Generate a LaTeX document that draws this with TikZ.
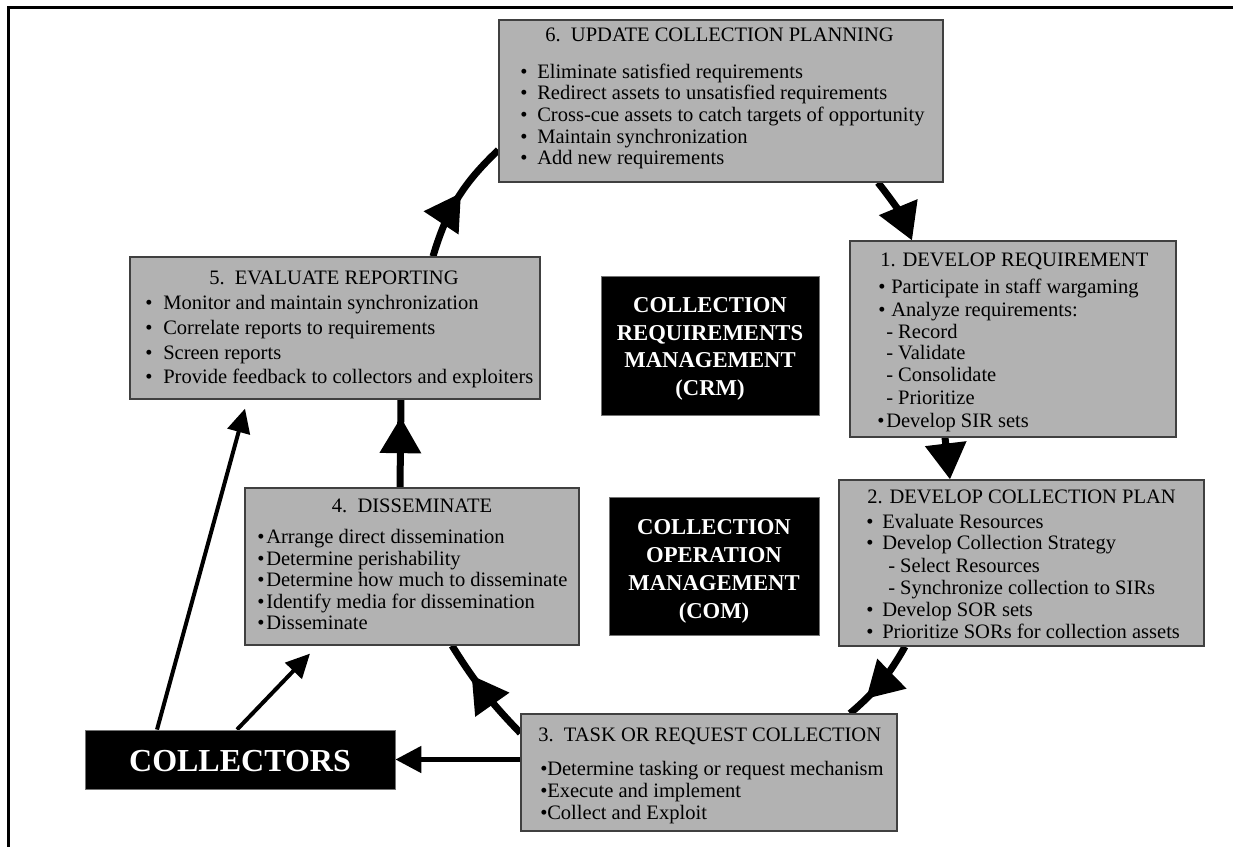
\documentclass[tikz,border=0pt]{standalone}
\usepackage{fontspec}
\setmainfont{Liberation Serif}
\usetikzlibrary{arrows.meta,decorations.markings,calc,fit,backgrounds}
\newcommand\bl[1]{\makebox[#1][l]{•}}
\begin{document}
\begin{tikzpicture}[x=0.75pt,y=-0.75pt,
  box/.style={draw=black!75, line width=0.9pt, fill=black!30, inner sep=0pt},
  dark/.style={draw=black!55, line width=0.6pt, fill=black, inner sep=0pt},
  ln/.style={inner sep=0pt, anchor=base west, font=\fontsize{15.4pt}{16pt}\selectfont},
  ttl/.style={inner sep=0pt, anchor=base west, font=\fontsize{15.4pt}{16pt}\selectfont},
  bld/.style={inner sep=0pt, anchor=base, text=white, font=\fontsize{17pt}{18pt}\selectfont\bfseries},
  cyc/.style={line width=5.25pt},
  bighead/.style={-{Triangle[length=27pt,width=30pt]}},
  midhead/.style={postaction={decorate}, decoration={markings,
      mark=at position #1 with {\arrow{Triangle[length=27pt,width=30pt]}}}},
  thinarr/.style={line width=3pt, -{Triangle[length=18pt,width=17pt]}},
  medarr/.style={line width=3.75pt, -{Triangle[length=19.5pt,width=19.5pt]}}
]
\useasboundingbox (0,0) rectangle (1233,847);

% ---------- boxes ----------
\node[box, fit={(499,20) (943,182)}] (b6) {};
\node[box, fit={(850,241) (1176,437)}] (b1) {};
\node[box, fit={(839,480) (1204,646)}] (b2) {};
\node[box, fit={(521,714) (897,831)}] (b3) {};
\node[box, fit={(245,488) (579,645)}] (b4) {};
\node[box, fit={(130,257) (540,399)}] (b5) {};
\node[dark, fit={(601,276) (819,415)}] (crm) {};
\node[dark, fit={(609,497) (819,635)}] (com) {};
\node[dark, fit={(85,730) (395,789)}] (col) {};

% ---------- box 6 ----------
\node[ttl] (t6) at (545,41) {6.\ \ UPDATE COLLECTION PLANNING};
\node[ln] (b6a) at (520,78)  {\bl{12.75pt}Eliminate satisfied requirements};
\node[ln] (b6b) at (520,99)  {\bl{12.75pt}Redirect assets to unsatisfied requirements};
\node[ln] (b6c) at (520,121) {\bl{12.75pt}Cross-cue assets to catch targets of opportunity};
\node[ln] (b6d) at (520,143) {\bl{12.75pt}Maintain synchronization};
\node[ln] (b6e) at (520,164) {\bl{12.75pt}Add new requirements};

% ---------- box 1 ----------
\node[ttl] (t1) at (880,266) {1. DEVELOP REQUIREMENT};
\node[ln] (b1a) at (878,293) {\bl{9.75pt}Participate in staff wargaming};
\node[ln] (b1b) at (878,316) {\bl{9.75pt}Analyze requirements:};
\node[ln] (b1c) at (886,338) {- Record};
\node[ln] (b1d) at (886,359) {- Validate};
\node[ln] (b1e) at (886,381) {- Consolidate};
\node[ln] (b1f) at (886,404) {- Prioritize};
\node[ln] (b1g) at (877,427) {\bl{6.75pt}Develop SIR sets};

% ---------- box 2 ----------
\node[ttl] (t2) at (867,503) {2. DEVELOP COLLECTION PLAN};
\node[ln] (b2a) at (866,528) {\bl{12pt}Evaluate Resources};
\node[ln] (b2b) at (866,549) {\bl{12pt}Develop Collection Strategy};
\node[ln] (b2c) at (888,572) {- Select Resources};
\node[ln] (b2d) at (888,594) {- Synchronize collection to SIRs};
\node[ln] (b2e) at (866,616) {\bl{12pt}Develop SOR sets};
\node[ln] (b2f) at (866,638) {\bl{12pt}Prioritize SORs for collection assets};

% ---------- box 3 ----------
\node[ttl] (t3) at (538,741) {3.\ \ TASK OR REQUEST COLLECTION};
\node[ln] (b3a) at (540,775) {\bl{5.25pt}Determine tasking or request mechanism};
\node[ln] (b3b) at (540,797) {\bl{5.25pt}Execute and implement};
\node[ln] (b3c) at (540,819) {\bl{5.25pt}Collect and Exploit};

% ---------- box 4 ----------
\node[ttl, anchor=base] (t4) at (412,512) {4.\ \ DISSEMINATE};
\node[ln] (b4a) at (257,543) {\bl{6.75pt}Arrange direct dissemination};
\node[ln] (b4b) at (257,565) {\bl{6.75pt}Determine perishability};
\node[ln] (b4c) at (257,586) {\bl{6.75pt}Determine how much to disseminate};
\node[ln] (b4d) at (257,608) {\bl{6.75pt}Identify media for dissemination};
\node[ln] (b4e) at (257,629) {\bl{6.75pt}Disseminate};

% ---------- box 5 ----------
\node[ttl] (t5) at (209,284) {5.\ \ EVALUATE REPORTING};
\node[ln] (b5a) at (145,309) {\bl{13.5pt}Monitor and maintain synchronization};
\node[ln] (b5b) at (145,334) {\bl{13.5pt}Correlate reports to requirements};
\node[ln] (b5c) at (145,359) {\bl{13.5pt}Screen reports};
\node[ln] (b5d) at (145,383) {\bl{13.5pt}Provide feedback to collectors and exploiters};

% ---------- dark boxes ----------
\node[bld] (crm1) at (710,312) {COLLECTION};
\node[bld] (crm2) at (710,340) {REQUIREMENTS};
\node[bld] (crm3) at (710,367) {MANAGEMENT};
\node[bld] (crm4) at (710,395) {(CRM)};
\node[bld] (com1) at (714,534) {COLLECTION};
\node[bld] (com2) at (714,562) {OPERATION};
\node[bld] (com3) at (714,590) {MANAGEMENT};
\node[bld] (com4) at (714,618) {(COM)};
\node[bld, font=\fontsize{24pt}{26pt}\selectfont\bfseries] (colt) at (240,771) {COLLECTORS};

% ---------- frame and connectors ----------
\begin{scope}[on background layer]
\fill[white] (0,0) rectangle (1233,847);
\draw[line width=2.25pt] (8,847) -- (8,7) -- (1233,7);
\draw[cyc, bighead] (878,0 |- b6.south) to[bend left=8] (912,0 |- b1.north);
\draw[cyc, bighead] (945,0 |- b1.south) -- (950,0 |- b2.north);
\draw[cyc, midhead=0.75] (905,0 |- b2.south) to[bend left=10] (850,0 |- b3.north);
\draw[cyc, midhead=0.68] (b3.west |- 0,733) to[bend left=6] (452,0 |- b4.south);
\draw[cyc, midhead=0.8] (400,0 |- b4.north) -- (401,0 |- b5.south);
\draw[cyc, midhead=0.55] (433,0 |- b5.north) to[bend left=15] (b6.west |- 0,150);
\draw[thinarr] (157,0 |- col.north) -- ($(245,0 |- b5.south)+(0,9)$);
\draw[thinarr] (237,0 |- col.north) -- ($(310,0 |- b4.south)+(0,8)$);
\draw[medarr] (b3.west |- col.east) -- (col.east);
\end{scope}
\end{tikzpicture}
\end{document}
